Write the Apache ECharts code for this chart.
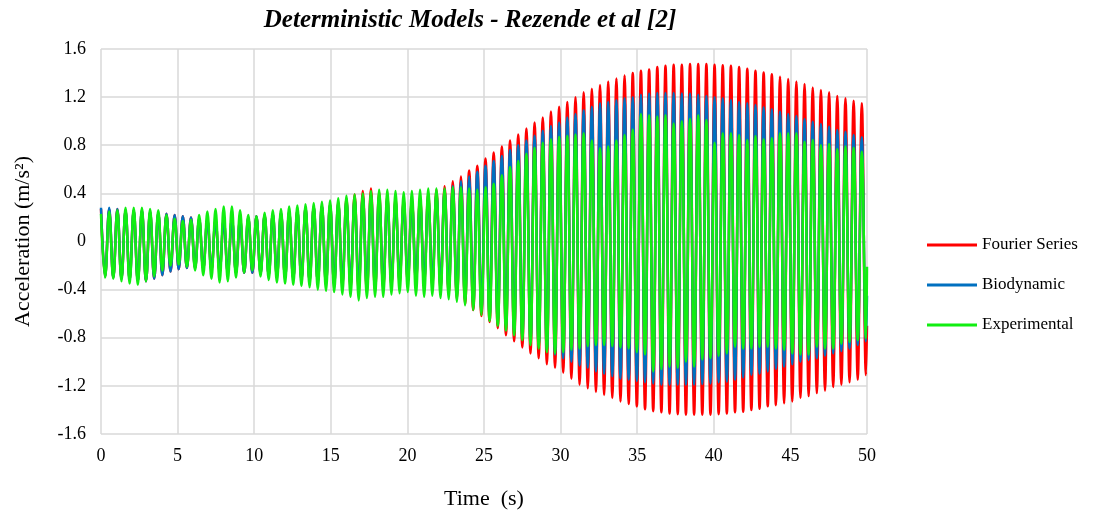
<!DOCTYPE html>
<html>
<head>
<meta charset="utf-8">
<script src="https://cdn.jsdelivr.net/npm/echarts@6/dist/echarts.min.js"></script>
<style>
html,body{margin:0;padding:0;background:#fff;}
#chart{width:1110px;height:515px;}
</style>
</head>
<body>
<div id="chart"></div>
<script>
// Time between successive peaks (s)
var PERIOD = 0.534;
var END_TIME = 50;
var xTicks = [0,5,10,15,20,25,30,35,40,45,50];
var yTicks = [-1.6,-1.2,-0.8,-0.4,0,0.4,0.8,1.2,1.6];
var seriesNames = ['Fourier Series','Biodynamic','Experimental'];

// Peak (maximum) values, one per cycle
var fourierPeaks = [0.27,0.27,0.27,0.26,0.26,0.26,0.25,0.24,0.23,0.22,0.21,0.20,0.19,0.18,0.18,0.18,0.19,0.19,0.20,0.21,
0.22,0.23,0.24,0.25,0.26,0.28,0.29,0.30,0.31,0.33,0.36,0.39,0.42,0.44,0.41,0.38,0.36,0.35,0.35,0.37,
0.40,0.43,0.46,0.50,0.54,0.59,0.63,0.69,0.74,0.79,0.84,0.89,0.94,0.99,1.03,1.08,1.12,1.16,1.20,1.24,
1.27,1.30,1.33,1.355,1.38,1.40,1.42,1.43,1.45,1.46,1.47,1.47,1.475,1.475,1.475,1.47,1.465,1.46,1.45,1.435,
1.42,1.405,1.39,1.37,1.35,1.33,1.31,1.28,1.26,1.24,1.21,1.19,1.17,1.15];
// Trough (minimum) values, one per cycle
var fourierTroughs = [-0.29,-0.30,-0.31,-0.32,-0.33,-0.33,-0.31,-0.28,-0.25,-0.23,-0.22,-0.22,-0.23,-0.24,-0.25,-0.26,-0.26,-0.26,-0.26,-0.27,
-0.28,-0.29,-0.30,-0.31,-0.32,-0.33,-0.34,-0.35,-0.36,-0.37,-0.39,-0.41,-0.42,-0.41,-0.39,-0.37,-0.35,-0.34,-0.34,-0.35,
-0.37,-0.40,-0.44,-0.48,-0.52,-0.57,-0.62,-0.67,-0.72,-0.78,-0.83,-0.88,-0.93,-0.97,-1.02,-1.05,-1.09,-1.14,-1.19,-1.22,
-1.25,-1.275,-1.30,-1.33,-1.35,-1.37,-1.395,-1.41,-1.42,-1.43,-1.435,-1.44,-1.44,-1.44,-1.44,-1.435,-1.43,-1.42,-1.415,-1.40,
-1.39,-1.37,-1.36,-1.345,-1.33,-1.30,-1.285,-1.26,-1.24,-1.21,-1.19,-1.17,-1.15,-1.11];
var fourierEnd = -0.7;

var bioPeaks = [0.28,0.28,0.27,0.26,0.26,0.26,0.25,0.24,0.23,0.22,0.21,0.20,0.19,0.18,0.18,0.18,0.19,0.19,0.20,0.21,
0.22,0.23,0.24,0.25,0.26,0.28,0.29,0.30,0.31,0.32,0.34,0.36,0.38,0.39,0.38,0.36,0.34,0.33,0.33,0.35,
0.37,0.40,0.43,0.46,0.50,0.54,0.58,0.63,0.67,0.71,0.76,0.80,0.84,0.88,0.92,0.96,0.99,1.03,1.06,1.09,
1.12,1.15,1.16,1.175,1.19,1.20,1.22,1.23,1.235,1.235,1.235,1.23,1.23,1.22,1.21,1.20,1.19,1.176,1.16,1.15,
1.135,1.115,1.10,1.08,1.06,1.043,1.018,0.996,0.977,0.955,0.927,0.913,0.885,0.866];
var bioTroughs = [-0.29,-0.30,-0.31,-0.32,-0.33,-0.33,-0.31,-0.28,-0.25,-0.23,-0.22,-0.22,-0.23,-0.24,-0.25,-0.26,-0.26,-0.26,-0.26,-0.27,
-0.28,-0.29,-0.30,-0.31,-0.32,-0.33,-0.34,-0.35,-0.36,-0.36,-0.37,-0.38,-0.39,-0.38,-0.37,-0.35,-0.33,-0.32,-0.32,-0.33,
-0.35,-0.38,-0.41,-0.45,-0.49,-0.53,-0.57,-0.62,-0.66,-0.70,-0.75,-0.79,-0.83,-0.87,-0.91,-0.94,-0.97,-1.00,-1.03,-1.05,
-1.08,-1.10,-1.12,-1.14,-1.15,-1.16,-1.17,-1.18,-1.19,-1.19,-1.19,-1.19,-1.19,-1.185,-1.18,-1.17,-1.165,-1.15,-1.13,-1.11,
-1.10,-1.08,-1.06,-1.04,-1.02,-1.00,-0.985,-0.97,-0.95,-0.93,-0.91,-0.89,-0.86,-0.83];
var bioEnd = -0.45;

var expPeaks = [0.23,0.25,0.26,0.28,0.28,0.28,0.27,0.26,0.22,0.19,0.17,0.18,0.22,0.25,0.27,0.29,0.29,0.26,0.22,0.21,
0.24,0.26,0.27,0.29,0.30,0.31,0.32,0.33,0.34,0.36,0.38,0.39,0.40,0.42,0.43,0.43,0.42,0.41,0.42,0.43,
0.44,0.44,0.44,0.45,0.45,0.44,0.43,0.45,0.48,0.55,0.62,0.67,0.73,0.78,0.82,0.85,0.87,0.88,0.89,0.90,
0.84,0.775,0.79,0.84,0.885,0.93,1.06,1.05,1.04,1.05,0.98,1.00,1.02,1.05,1.01,0.82,0.90,0.90,0.885,0.844,
0.877,0.85,0.86,0.90,0.90,0.90,0.83,0.844,0.80,0.81,0.766,0.79,0.78,0.746];
var expTroughs = [-0.30,-0.31,-0.33,-0.35,-0.36,-0.33,-0.29,-0.24,-0.20,-0.19,-0.21,-0.24,-0.28,-0.31,-0.34,-0.33,-0.30,-0.26,-0.24,-0.29,
-0.32,-0.34,-0.35,-0.36,-0.37,-0.38,-0.40,-0.41,-0.42,-0.44,-0.46,-0.49,-0.47,-0.46,-0.46,-0.44,-0.43,-0.42,-0.45,-0.46,
-0.45,-0.47,-0.48,-0.50,-0.53,-0.57,-0.61,-0.66,-0.70,-0.74,-0.78,-0.82,-0.86,-0.89,-0.92,-0.93,-0.92,-0.90,-0.89,-0.87,
-0.86,-0.86,-0.87,-0.88,-0.89,-0.92,-0.94,-1.08,-1.06,-1.04,-1.05,-1.00,-1.04,-0.98,-0.97,-0.95,-0.93,-0.875,-0.89,-0.89,
-0.875,-0.875,-0.89,-0.90,-0.93,-0.94,-0.94,-0.875,-0.89,-0.89,-0.85,-0.835,-0.82,-0.805];
var expEnd = -0.21;

function buildSeries(peaks, troughs, endVal){
  var pts = [];
  for (var k = 0; k < peaks.length; k++){
    pts.push([k*PERIOD, peaks[k]]);
    pts.push([(k+0.5)*PERIOD, troughs[k]]);
  }
  pts.push([END_TIME, endVal]);
  return pts;
}

var colors = ['#ff0000','#0070c0','#11ee11'];
var dataSets = [
  buildSeries(fourierPeaks, fourierTroughs, fourierEnd),
  buildSeries(bioPeaks, bioTroughs, bioEnd),
  buildSeries(expPeaks, expTroughs, expEnd)
];

var FONT = '"Liberation Serif", "Times New Roman", serif';
var chart = echarts.init(document.getElementById('chart'), null, {renderer:'canvas'});
chart.setOption({
  animation: false,
  backgroundColor: '#ffffff',
  title: {
    text: 'Deterministic Models - Rezende et al [2]',
    left: 465, top: 3, textAlign: 'center',
    textStyle: {fontFamily: FONT, fontSize: 25, fontWeight: 'bold', fontStyle: 'italic', color: '#000'}
  },
  legend: {
    orient: 'vertical', left: 922, top: 231,
    itemWidth: 50, itemHeight: 3, itemGap: 22,
    icon: 'rect',
    data: seriesNames,
    textStyle: {fontFamily: FONT, fontSize: 17, color: '#000', lineHeight: 18}
  },
  grid: {left: 101, right: 243, top: 49, bottom: 81, containLabel: false},
  xAxis: {
    type: 'value', min: xTicks[0], max: xTicks[xTicks.length-1], interval: 5,
    name: 'Time  (s)', nameLocation: 'middle', nameGap: 54,
    nameTextStyle: {fontFamily: FONT, fontSize: 22, color: '#000'},
    axisLine: {show: false}, axisTick: {show: false},
    axisLabel: {fontFamily: FONT, fontSize: 18, color: '#000', margin: 13},
    splitLine: {show: true, lineStyle: {color: '#d9d9d9', width: 1.5}}
  },
  yAxis: {
    type: 'value', min: yTicks[0], max: yTicks[yTicks.length-1], interval: 0.4,
    name: 'Acceleration (m/s²)', nameLocation: 'middle', nameGap: 67, nameRotate: 90,
    nameTextStyle: {fontFamily: FONT, fontSize: 22, color: '#000'},
    axisLine: {show: false}, axisTick: {show: false},
    axisLabel: {fontFamily: FONT, fontSize: 18, color: '#000', margin: 15,
      formatter: function(v){ return String(+v.toFixed(1)); }},
    splitLine: {show: true, lineStyle: {color: '#d9d9d9', width: 1.5}}
  },
  series: seriesNames.map(function(n, i){
    return {
      name: n, type: 'line', data: dataSets[i], showSymbol: false, symbol: 'none',
      smooth: 0.4, z: 2 + i,
      lineStyle: {color: colors[i], width: 2.5},
      itemStyle: {color: colors[i]}
    };
  })
});
</script>
</body>
</html>
